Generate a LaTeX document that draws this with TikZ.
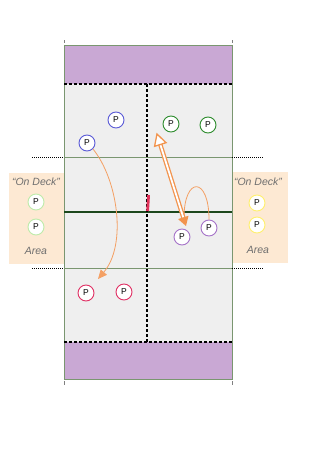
\documentclass[tikz,border=0pt]{standalone}
\usepackage{fontspec}
\setmainfont{Liberation Sans}
\usetikzlibrary{arrows.meta,calc}
\definecolor{band}{RGB}{201,168,212}
\definecolor{court}{RGB}{239,239,239}
\definecolor{lineg}{RGB}{122,150,112}
\definecolor{centerg}{RGB}{28,72,28}
\definecolor{deck}{RGB}{253,233,211}
\definecolor{ora}{RGB}{244,160,100}
\definecolor{orad}{RGB}{242,148,78}
\definecolor{pblue}{RGB}{90,90,214}
\definecolor{pgreen}{RGB}{46,140,46}
\definecolor{ppurple}{RGB}{165,115,200}
\definecolor{pred}{RGB}{224,48,100}
\definecolor{plgreen}{RGB}{190,235,170}
\definecolor{pyellow}{RGB}{255,240,110}
\definecolor{netred}{RGB}{226,50,90}
\definecolor{txtgray}{RGB}{110,110,110}
\tikzset{
  player/.style={circle, draw=#1, line width=0.9pt, fill=white, minimum size=16pt, inner sep=0pt, font=\fontsize{8.5}{9}\selectfont},
  bigdots/.style={line width=2.6pt, dash pattern=on 2.6pt off 2.4pt},
  smalldots/.style={line width=0.9pt, dash pattern=on 1pt off 1pt},
  tick/.style={draw=gray, line width=0.8pt},
  decktext/.style={font=\itshape\fontsize{10.5}{12}\selectfont, text=txtgray, inner sep=0pt}
}
\begin{document}
\begin{tikzpicture}[x=1pt,y=-1pt]
\useasboundingbox (0,0) rectangle (319,464);
% on deck areas
\fill[deck] (9,173) rectangle (64,264);
\fill[deck] (232,172) rectangle (288,263);
% court
\fill[court] (64,84) rectangle (232,342);
\fill[band] (64,45) rectangle (232,84);
\fill[band] (64,342) rectangle (232,379);
\draw[lineg, line width=0.8pt] (64,45) rectangle (232,379);
% ticks
\draw[tick] (64,40) -- (64,43);
\draw[tick] (232,40) -- (232,43);
\draw[tick] (64,381) -- (64,385);
\draw[tick] (232,381) -- (232,385);
% thin court lines
\draw[lineg, line width=1pt] (64,157) -- (232,157);
\draw[lineg, line width=1pt] (64,268) -- (232,268);
\draw[smalldots] (32,157) -- (64,157);
\draw[smalldots] (232,157) -- (264,157);
\draw[smalldots] (32,268) -- (64,268);
\draw[smalldots] (232,268) -- (264,268);
% centre line
\draw[centerg, line width=2.4pt] (64,212) -- (232,212);
% dotted lines
\draw[bigdots] (64,84) -- (232,84);
\draw[bigdots] (64,342) -- (232,342);
\draw[bigdots] (147,84) -- (147,342);
% net mark
\draw[netred, line width=2.8pt] (148.6,195) -- (147.6,211);
% on deck text
\node[decktext] (dl1) at (36,182) {“On Deck”};
\node[decktext] (dl2) at (36,251) {Area};
\node[decktext] (dr1) at (258,182) {“On Deck”};
\node[decktext] (dr2) at (258,250) {Area};
\node[player=plgreen] (l1) at (36,202) {P};
\node[player=plgreen] (l2) at (36,227) {P};
\node[player=pyellow] (y1) at (257,203) {P};
\node[player=pyellow] (y2) at (257,225) {P};
% players
\node[player=pblue] (b1) at (116,120) {P};
\node[player=pblue] (b2) at (87,143) {P};
\node[player=pgreen] (g1) at (171,124) {P};
\node[player=pgreen] (g2) at (208,125) {P};
\node[player=ppurple] (u1) at (182,237) {P};
\node[player=ppurple] (u2) at (209,228) {P};
\node[player=pred] (r1) at (86,293) {P};
\node[player=pred] (r2) at (124,292) {P};
% blue curved arrow
\coordinate (bend) at (98,279);
\draw[ora, line width=0.8pt, -{Triangle[length=9pt,width=8pt]}] (b2.-45) .. controls (118,180) and (127,245) .. (bend);
% loop
\coordinate (lend) at (184,218);
\draw[ora, line width=0.8pt] (u2.north) .. controls (209,176) and (184,176) .. (lend);
% double arrow
\coordinate (dA) at (186,226);
\coordinate (dB) at (157,134);
\coordinate (hb) at ($(dB)!11pt!(dA)$);
\coordinate (fb) at ($(dA)!9pt!(dB)$);
\draw[orad, line width=1.3pt, double=white, double distance=1.8pt] (fb) -- (hb);
\fill[orad] (dA) -- ($(fb)!5.5pt!90:(dA)$) -- ($(fb)!5.5pt!-90:(dA)$) -- cycle;
\filldraw[draw=orad, fill=white, line width=1.3pt, line join=miter] (dB) -- ($(hb)!6pt!90:(dB)$) -- ($(hb)!6pt!-90:(dB)$) -- cycle;
\end{tikzpicture}
\end{document}
